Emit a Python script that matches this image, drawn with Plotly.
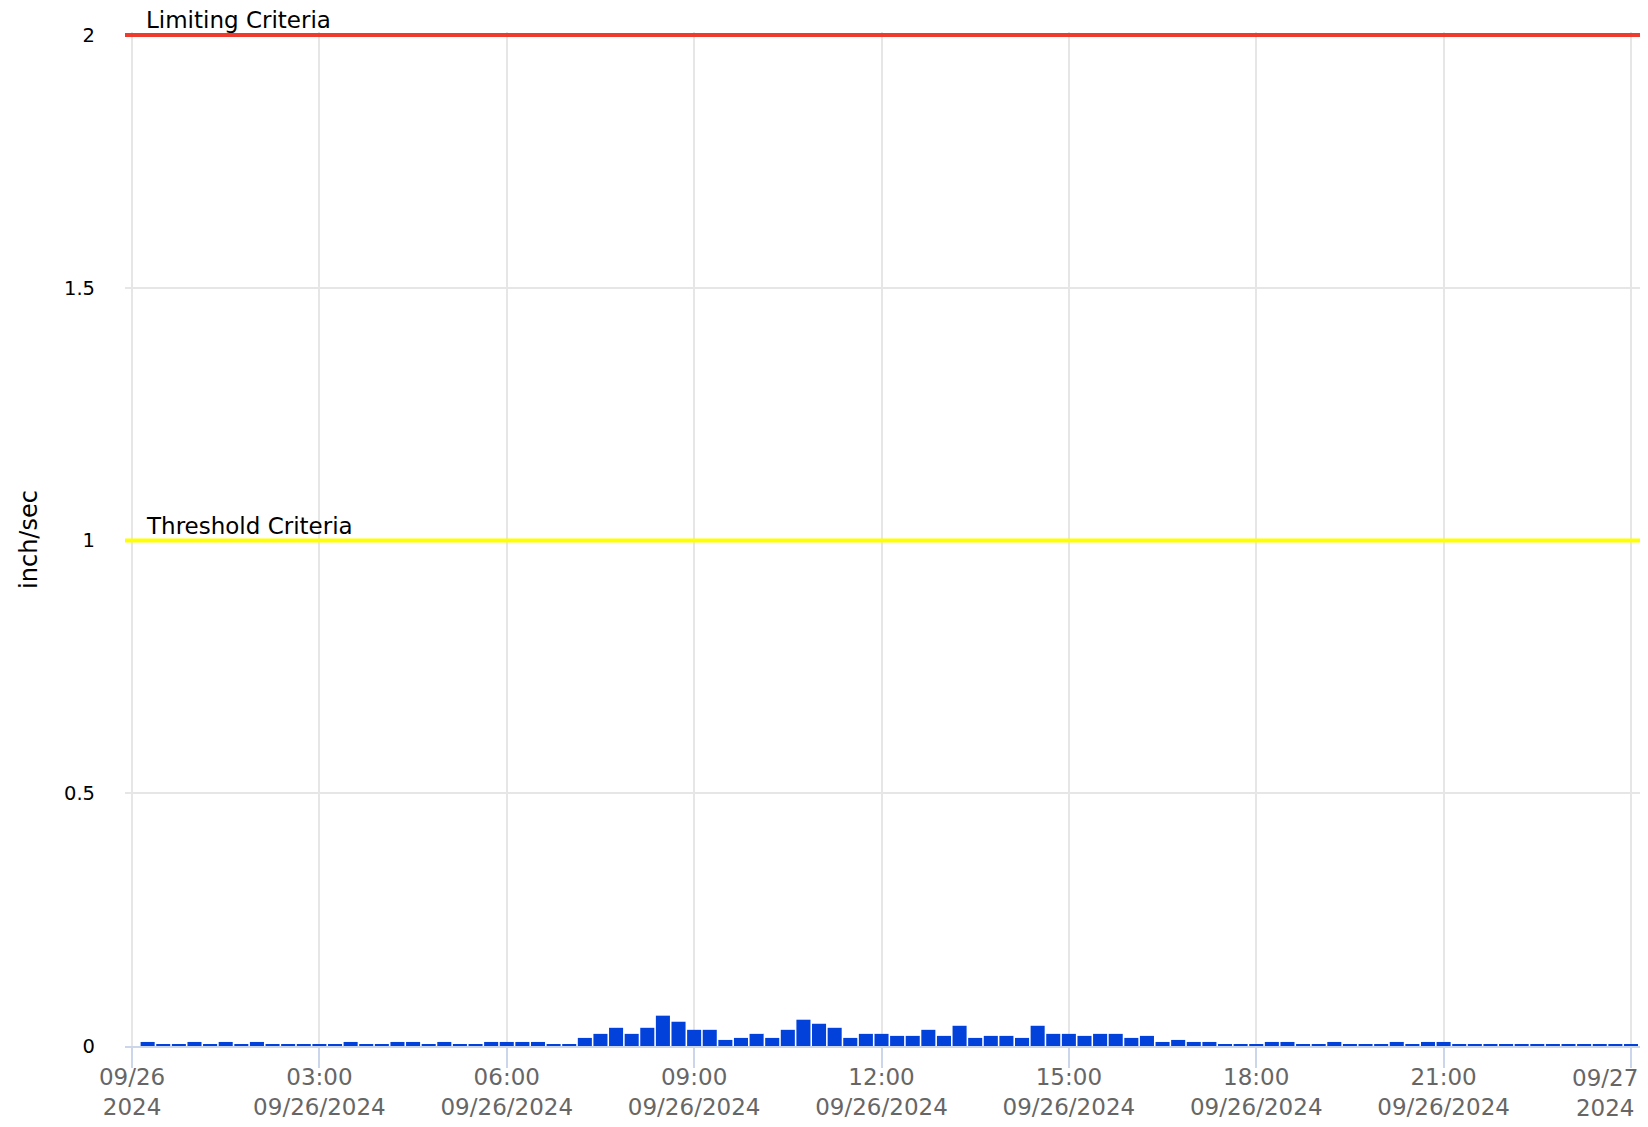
import pandas as pd
import plotly.graph_objects as go

# ---- data ----
times = pd.date_range("2024-09-26 00:15", "2024-09-27 00:00", freq="15min")
velocity = [
    0.008, 0.004, 0.004, 0.008, 0.004, 0.008, 0.004, 0.008, 0.004, 0.004, 0.004, 0.004,
    0.004, 0.008, 0.004, 0.004, 0.008, 0.008, 0.004, 0.008, 0.004, 0.004, 0.008, 0.008,
    0.008, 0.008, 0.004, 0.004, 0.016, 0.024, 0.036, 0.024, 0.036, 0.060, 0.048, 0.032,
    0.032, 0.012, 0.016, 0.024, 0.016, 0.032, 0.052, 0.044, 0.036, 0.016, 0.024, 0.024,
    0.020, 0.020, 0.032, 0.020, 0.040, 0.016, 0.020, 0.020, 0.016, 0.040, 0.024, 0.024,
    0.020, 0.024, 0.024, 0.016, 0.020, 0.008, 0.012, 0.008, 0.008, 0.004, 0.004, 0.004,
    0.008, 0.008, 0.004, 0.004, 0.008, 0.004, 0.004, 0.004, 0.008, 0.004, 0.008, 0.008,
    0.004, 0.004, 0.004, 0.004, 0.004, 0.004, 0.004, 0.004, 0.004, 0.004, 0.004, 0.004,
]
criteria_names = ["Limiting Criteria", "Threshold Criteria"]
criteria_values = [2, 1]
criteria_colors = ["#EE3B2E", "#FFFF00"]

tick_vals = pd.date_range("2024-09-26 00:00", "2024-09-27 00:00", freq="3h")
tick_text = ["09/26<br>2024", "03:00<br>09/26/2024", "06:00<br>09/26/2024",
             "09:00<br>09/26/2024", "12:00<br>09/26/2024", "15:00<br>09/26/2024",
             "18:00<br>09/26/2024", "21:00<br>09/26/2024", "09/27<br>2024"]
y_ticks = [0, 0.5, 1, 1.5, 2]
y_text = ["0", "0.5", "1", "1.5", "2"]

FONT = "DejaVu Sans"
TICK_FONT = dict(family=FONT, size=23, color="#666666")

fig = go.Figure()
fig.add_trace(go.Bar(x=times, y=velocity, marker=dict(color="#0341DB", line=dict(width=0)),
                     showlegend=False))

for name, val, col in zip(criteria_names, criteria_values, criteria_colors):
    fig.add_shape(type="line", xref="paper", x0=0, x1=1, yref="y", y0=val, y1=val,
                  line=dict(color=col, width=4), layer="above")
    fig.add_annotation(text=name, xref="paper", x=0.0125, xanchor="left",
                       yref="y", y=val, yanchor="bottom", yshift=0, showarrow=False,
                       font=dict(family=FONT, size=23, color="#000000"))

fig.add_annotation(text="inch/sec", xref="paper", x=-0.0634, xanchor="center",
                   yref="paper", y=0.5, yanchor="middle", textangle=-90, showarrow=False,
                   font=dict(family=FONT, size=24, color="#000000"))

# last tick label is pulled inside the chart edge (as in the reference)
shown_text = tick_text[:-1] + [""]
fig.add_annotation(text=tick_text[-1], xref="x", x=tick_vals[-1], xanchor="center",
                   xshift=-26, yref="paper", y=0, yanchor="middle", yshift=-47,
                   showarrow=False, align="center", font=TICK_FONT)

# page body has an 8px margin, so the figure is 8px smaller and margins shifted
fig.update_layout(
    width=1640, height=1119,
    margin=dict(l=117, r=8, t=24, b=81),
    paper_bgcolor="white", plot_bgcolor="white",
    bargap=0.1,
    font=dict(family=FONT),
    xaxis=dict(
        type="date", automargin=False,
        range=["2024-09-25 23:53:15", "2024-09-27 00:08:40"],
        tickmode="array", tickvals=tick_vals, ticktext=shown_text,
        ticks="outside", ticklen=20, tickcolor="#ccd6eb", tickwidth=2,
        showline=True, linecolor="#ccd6eb", linewidth=2,
        showgrid=True, gridcolor="#e6e6e6", gridwidth=2,
        tickfont=TICK_FONT,
        ticklabeloverflow="allow", ticklabelstandoff=-11,
        zeroline=False,
    ),
    yaxis=dict(
        range=[0, 2.006], automargin=False,
        tickmode="array", tickvals=y_ticks, ticktext=y_text,
        showgrid=True, gridcolor="#e6e6e6", gridwidth=2,
        zeroline=False, showline=False, ticks="",
        ticklabelstandoff=29,
        tickfont=dict(family=FONT, size=19.5, color="#000000"),
    ),
)

fig.write_html("out.html")
